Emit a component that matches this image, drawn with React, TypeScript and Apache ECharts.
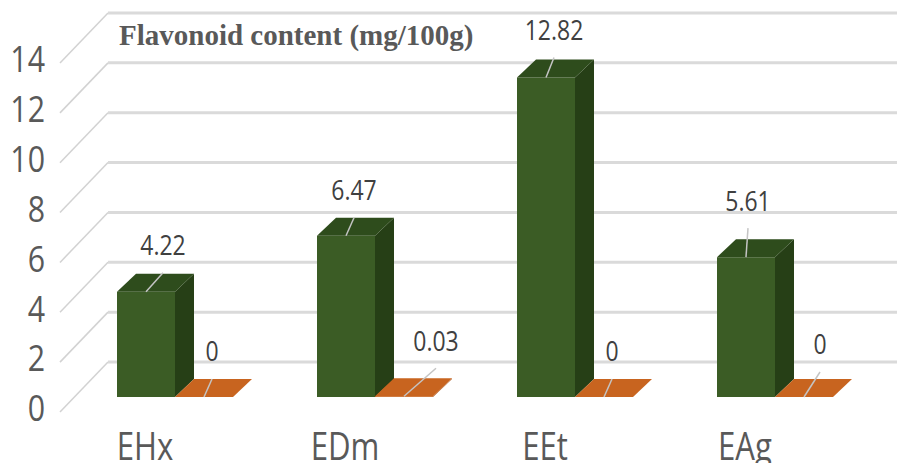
import React, { useEffect, useRef } from "react";
import * as echarts from "echarts";

// ---- data ----
const categories = ["EHx", "EDm", "EEt", "EAg"];
const greenValues = [4.22, 6.47, 12.82, 5.61];
const orangeValues = [0, 0.03, 0, 0];
const yTicks = [0, 2, 4, 6, 8, 10, 12, 14];

// ---- layout of the pseudo-3D scene ----
// end of each data label's leader line, relative to the bar top (px)
const greenLeaders = [[17, -19], [8, -18], [8, -20], [2, -29]];
const orangeLeaders = [[8, -18], [32, -28], [8, -18], [16, -25]];

const WALL_DX = 48; // back wall offset from the front edge of the floor
const WALL_DY = -50;
const BAR_SHIFT = 15; // bars sit this far back from the floor's front edge
const BAR_DEPTH_X = 19;
const BAR_DEPTH_Y = -18;
const BAR_RATIO = 0.29; // bar width as a share of the category band

// narrow humanist lettering: Open Sans squeezed horizontally
const LABEL_FONT = '"Open Sans", "Lato", sans-serif';
const SQUEEZE = 0.82;

type Faces = { front: string; top: string; side: string };

const greenFaces: Faces = { front: "#3b5c25", top: "#2e4c1c", side: "#263f16" };
const orangeFaces: Faces = { front: "#c55a11", top: "#c8641f", side: "#a84c0e" };

function narrowText(
  x: number,
  y: number,
  text: string,
  fontSize: number,
  fill: string,
  align: string
) {
  return {
    type: "text",
    x,
    y,
    scaleX: SQUEEZE,
    style: {
      text,
      fill,
      fontSize,
      fontFamily: LABEL_FONT,
      align,
      verticalAlign: "middle",
    },
  };
}

function boxRenderer(side: "left" | "right", faces: Faces, leaders: number[][]) {
  return (params: any, api: any) => {
    const i = api.value(0);
    const v = api.value(1);
    const base = api.coord([i, 0]);
    const top = api.coord([i, v]);
    const band = api.size([1, 0])[0];
    const w = band * BAR_RATIO;
    const L = (side === "left" ? base[0] - w : base[0]) + BAR_SHIFT;
    const R = L + w;
    const B = base[1] - BAR_SHIFT;
    const T = top[1] - BAR_SHIFT;
    const dx = BAR_DEPTH_X;
    const dy = BAR_DEPTH_Y;
    const ax = L + w / 2;
    const ay = T;
    const [lx, ly] = leaders[params.dataIndex];
    return {
      type: "group",
      children: [
        {
          type: "polygon",
          shape: { points: [[R, T], [R + dx, T + dy], [R + dx, B + dy], [R, B]] },
          style: { fill: faces.side },
        },
        {
          type: "rect",
          shape: { x: L, y: T, width: w, height: Math.max(B - T, 0) },
          style: { fill: faces.front },
        },
        {
          type: "polygon",
          shape: { points: [[L, T], [R, T], [R + dx, T + dy], [L + dx, T + dy]] },
          style: { fill: faces.top },
        },
        {
          type: "line",
          shape: { x1: ax, y1: ay, x2: ax + lx, y2: ay + ly },
          style: { stroke: "#c4c4c4", lineWidth: 1.5 },
        },
        narrowText(ax + lx, ay + ly - 28, String(v), 28, "#404040", "center"),
      ],
    };
  };
}

// side-wall diagonals, back-wall gridlines and the value labels
function wallRenderer(params: any, api: any) {
  const cs = params.coordSys;
  const v = api.value(1);
  const y = api.coord([0, v])[1];
  const x0 = cs.x;
  const x1 = cs.x + cs.width;
  return {
    type: "group",
    children: [
      {
        type: "line",
        shape: { x1: x0, y1: y, x2: x0 + WALL_DX, y2: y + WALL_DY },
        style: { stroke: "#d2d2d2", lineWidth: 1.5 },
      },
      {
        type: "line",
        shape: { x1: x0 + WALL_DX, y1: y + WALL_DY, x2: x1 + WALL_DX, y2: y + WALL_DY },
        style: { stroke: "#dadada", lineWidth: 3 },
      },
      narrowText(x0 - 15, y - 5, String(v), 37, "#595959", "right"),
    ],
  };
}

function categoryRenderer(params: any, api: any) {
  const i = api.value(0);
  const p = api.coord([i, 0]);
  return narrowText(p[0] - 15, p[1] + 33, categories[i], 38, "#595959", "center");
}

export default function App() {
  const ref = useRef<HTMLDivElement>(null);

  useEffect(() => {
    if (!ref.current) return;
    const chart = echarts.init(ref.current, undefined, { renderer: "svg" });
    chart.setOption({
      animation: false,
      backgroundColor: "#ffffff",
      title: {
        text: "Flavonoid content (mg/100g)",
        left: 119,
        top: 20,
        padding: 0,
        textStyle: {
          fontFamily: '"Liberation Serif", "Times New Roman", serif',
          fontWeight: "bold",
          fontSize: 29,
          color: "#595959",
        },
      },
      grid: { left: 60, right: 37, top: 63, bottom: 51, containLabel: false },
      xAxis: {
        type: "category",
        data: categories,
        axisLine: { show: false },
        axisTick: { show: false },
        splitLine: { show: false },
        axisLabel: { show: false },
      },
      yAxis: {
        type: "value",
        min: 0,
        max: 14,
        interval: 2,
        axisLine: { show: false },
        axisTick: { show: false },
        splitLine: { show: false },
        axisLabel: { show: false },
      },
      series: [
        {
          type: "custom",
          name: "walls",
          silent: true,
          z: 1,
          data: yTicks.map((t) => [0, t]),
          encode: { x: 0, y: 1 },
          renderItem: wallRenderer,
        },
        {
          type: "custom",
          name: "categories",
          silent: true,
          z: 1,
          data: categories.map((_, i) => [i, 0]),
          encode: { x: 0, y: 1 },
          renderItem: categoryRenderer,
        },
        {
          type: "custom",
          name: "series1",
          silent: true,
          z: 2,
          data: greenValues.map((v, i) => [i, v]),
          encode: { x: 0, y: 1 },
          renderItem: boxRenderer("left", greenFaces, greenLeaders),
        },
        {
          type: "custom",
          name: "series2",
          silent: true,
          z: 3,
          data: orangeValues.map((v, i) => [i, v]),
          encode: { x: 0, y: 1 },
          renderItem: boxRenderer("right", orangeFaces, orangeLeaders),
        },
      ],
    });
    return () => chart.dispose();
  }, []);

  return (
    <div
      ref={ref}
      style={{ position: "fixed", left: 0, top: 0, width: 897, height: 463 }}
    />
  );
}
